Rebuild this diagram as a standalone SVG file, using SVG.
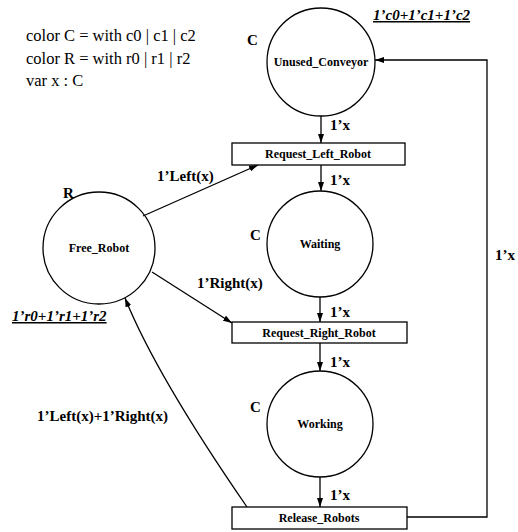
<svg xmlns="http://www.w3.org/2000/svg" width="518" height="532" viewBox="0 0 518 532">
<style>
.place{fill:none;stroke:#000;stroke-width:1.3}
.trans{fill:#fff;stroke:#000;stroke-width:1.3}
.arc{fill:none;stroke:#000;stroke-width:1.3}
text{font-family:"Liberation Serif","Times New Roman",serif;fill:#000}
.nm{font-size:12px;font-weight:bold;text-anchor:middle}
.lb{font-size:15px;font-weight:bold}
.decl{font-size:16.5px}
.mk{font-size:15px;font-weight:bold;font-style:italic;text-decoration:underline}
</style>
<defs>
<marker id="ah" markerWidth="9" markerHeight="6" refX="9" refY="3" orient="auto" markerUnits="userSpaceOnUse"><path d="M0,0 L9,3 L0,6 z" fill="#000"/></marker>
</defs>
<rect width="518" height="532" fill="#fff"/>
<g id="declarations">
<text class="decl" x="26" y="41">color C = with c0 | c1 | c2</text>
<text class="decl" x="26" y="64">color R = with r0 | r1 | r2</text>
<text class="decl" x="26" y="86">var x : C</text>
</g>
<g id="connectors">
<path class="arc" d="M321,116 V143" marker-end="url(#ah)"/>
<path class="arc" d="M321,165 V191" marker-end="url(#ah)"/>
<path class="arc" d="M320,297 V322" marker-end="url(#ah)"/>
<path class="arc" d="M320,343 V371" marker-end="url(#ah)"/>
<path class="arc" d="M320,477 V507" marker-end="url(#ah)"/>
<path class="arc" d="M407,517 H487 V60 H375" marker-end="url(#ah)"/>
<path class="arc" d="M143,216 L258,165" marker-end="url(#ah)"/>
<path class="arc" d="M152,272 L232,323" marker-end="url(#ah)"/>
<path class="arc" d="M247,507 Q156,375 125,298" marker-end="url(#ah)"/>
<text class="lb" x="330" y="130">1’x</text>
<text class="lb" x="330" y="185">1’x</text>
<text class="lb" x="330" y="317">1’x</text>
<text class="lb" x="330" y="367">1’x</text>
<text class="lb" x="330" y="500">1’x</text>
<text class="lb" x="495" y="260">1’x</text>
<text class="lb" x="157" y="181">1’Left(x)</text>
<text class="lb" x="197" y="288">1’Right(x)</text>
<text class="lb" x="37" y="421">1’Left(x)+1’Right(x)</text>
</g>
<g id="Unused_Conveyor">
<circle class="place" cx="321" cy="62" r="54"/>
<text class="nm" x="321" y="66">Unused_Conveyor</text>
<text class="lb" x="247" y="45">C</text>
<text class="mk" x="373" y="20">1’c0+1’c1+1’c2</text>
</g>
<g id="Request_Left_Robot">
<rect class="trans" x="232" y="143" width="173" height="22"/>
<text class="nm" x="318" y="158">Request_Left_Robot</text>
</g>
<g id="Waiting">
<circle class="place" cx="320" cy="244" r="53"/>
<text class="nm" x="320" y="248">Waiting</text>
<text class="lb" x="250" y="240">C</text>
</g>
<g id="Request_Right_Robot">
<rect class="trans" x="232" y="322" width="175" height="21"/>
<text class="nm" x="319" y="337">Request_Right_Robot</text>
</g>
<g id="Working">
<circle class="place" cx="320" cy="424" r="53"/>
<text class="nm" x="320" y="428">Working</text>
<text class="lb" x="250" y="412">C</text>
</g>
<g id="Release_Robots">
<rect class="trans" x="232" y="507" width="175" height="22"/>
<text class="nm" x="319" y="522">Release_Robots</text>
</g>
<g id="Free_Robot">
<circle class="place" cx="99" cy="248" r="56"/>
<text class="nm" x="99" y="252">Free_Robot</text>
<text class="lb" x="63" y="198">R</text>
<text class="mk" x="12" y="321">1’r0+1’r1+1’r2</text>
</g>
</svg>
